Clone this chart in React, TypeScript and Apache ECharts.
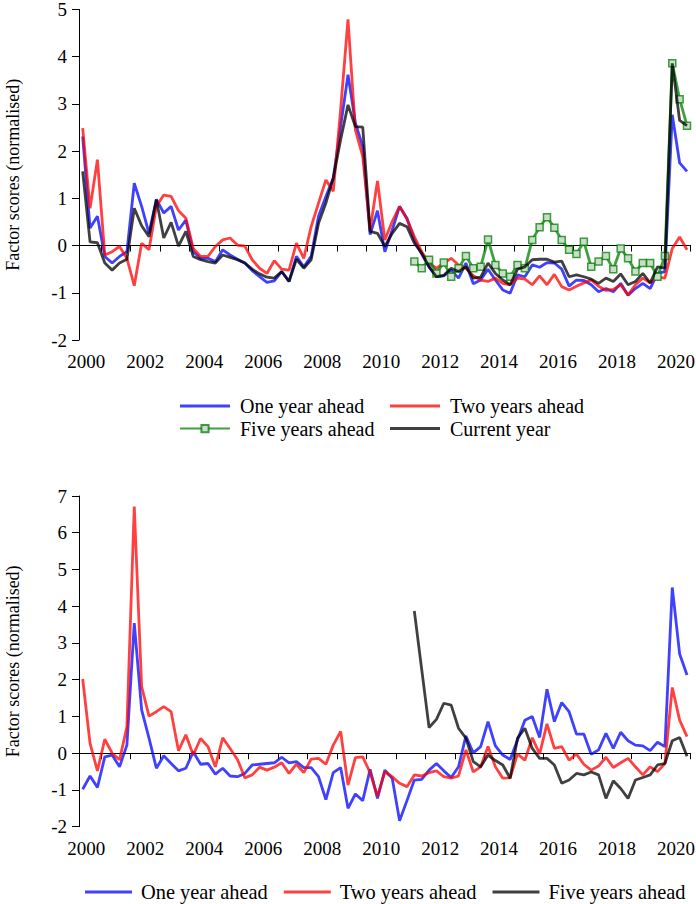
import React, { useEffect, useRef } from "react";
import * as echarts from "echarts";

// Quarterly categories 2000Q2 .. 2020Q4
const quarters: string[] = [];
for (let y = 2000; y <= 2020; y++) {
  for (let q = 1; q <= 4; q++) {
    if (y === 2000 && q === 1) continue;
    quarters.push(`${y}Q${q}`);
  }
}

const yTicksTop = { min: -2, max: 5, interval: 1 };
const yTicksBottom = { min: -2, max: 7, interval: 1 };

// ---- Top panel ----
const topOneYear = [
  2.31, 0.37, 0.62, -0.23, -0.37, -0.23, -0.13, 1.32, 0.83, 0.26,
  0.98, 0.69, 0.83, 0.33, 0.54, -0.13, -0.27, -0.27, -0.34, -0.09,
  -0.2, -0.29, -0.37, -0.53, -0.66, -0.78, -0.75, -0.55, -0.76, -0.23,
  -0.45, -0.23, 0.62, 1.04, 1.43, 2.52, 3.62, 2.6, 2.1, 0.23,
  0.74, -0.13, 0.33, 0.83, 0.58, 0.12, -0.18, -0.45, -0.66, -0.64,
  -0.52, -0.69, -0.37, -0.81, -0.73, -0.5, -0.73, -0.94, -1.01, -0.62,
  -0.66, -0.41, -0.46, -0.36, -0.37, -0.5, -0.86, -0.73, -0.74, -0.83,
  -0.98, -0.91, -0.98, -0.8, -1.05, -0.91, -0.8, -0.91, -0.59, -0.55,
  2.77, 1.75, 1.57,
];
const topTwoYears = [
  2.49, 0.79, 1.82, -0.2, -0.13, -0.02, -0.27, -0.85, 0.05, -0.09,
  0.83, 1.07, 1.04, 0.74, 0.58, -0.06, -0.23, -0.23, -0.02, 0.12,
  0.16, 0.01, -0.01, -0.3, -0.48, -0.59, -0.32, -0.5, -0.52, 0.05,
  -0.27, 0.4, 0.9, 1.39, 1.15, 2.88, 4.79, 2.45, 1.89, 0.33,
  1.37, 0.12, 0.51, 0.83, 0.56, 0.19, -0.13, -0.37, -0.48, -0.37,
  -0.27, -0.41, -0.48, -0.64, -0.73, -0.76, -0.69, -0.8, -0.83, -0.69,
  -0.71, -0.83, -0.64, -0.83, -0.61, -0.87, -0.94, -0.86, -0.79, -0.73,
  -0.86, -0.95, -0.93, -0.83, -1.05, -0.83, -0.69, -0.79, -0.67, -0.69,
  -0.06, 0.18, -0.09,
];
// starts 2011Q3
const topFiveYearsStart = 45;
const topFiveYears = [
  -0.34, -0.48, -0.3, -0.59, -0.36, -0.66, -0.48, -0.22, -0.48, -0.45,
  0.13, -0.41, -0.59, -0.66, -0.41, -0.48, 0.12, 0.39, 0.6, 0.38,
  0.12, -0.09, -0.18, 0.08, -0.45, -0.34, -0.22, -0.5, -0.06, -0.27,
  -0.55, -0.37, -0.37, -0.66, -0.22, 3.86, 3.1, 2.54,
];
const topCurrentYear = [
  1.57, 0.08, 0.06, -0.37, -0.52, -0.37, -0.29, 0.79, 0.42, 0.19,
  0.97, 0.16, 0.49, -0.01, 0.3, -0.23, -0.3, -0.34, -0.37, -0.2,
  -0.25, -0.3, -0.37, -0.5, -0.6, -0.67, -0.69, -0.55, -0.76, -0.29,
  -0.48, -0.3, 0.47, 0.9, 1.43, 2.24, 2.98, 2.52, 2.51, 0.3,
  0.26, -0.02, 0.26, 0.47, 0.4, 0.05, -0.16, -0.45, -0.66, -0.63,
  -0.48, -0.55, -0.45, -0.69, -0.67, -0.37, -0.59, -0.73, -0.83, -0.5,
  -0.45, -0.3, -0.29, -0.29, -0.35, -0.33, -0.66, -0.62, -0.66, -0.71,
  -0.8, -0.69, -0.76, -0.6, -0.83, -0.76, -0.59, -0.79, -0.45, -0.48,
  3.86, 2.65, 2.54,
];

// ---- Bottom panel ----
const bottomOneYear = [
  -0.98, -0.62, -0.93, -0.1, -0.05, -0.37, 0.22, 3.54, 1.18, 0.41,
  -0.41, -0.07, -0.28, -0.48, -0.41, 0.04, -0.3, -0.28, -0.57, -0.41,
  -0.62, -0.64, -0.55, -0.32, -0.3, -0.28, -0.26, -0.11, -0.26, -0.23,
  -0.39, -0.39, -0.64, -1.26, -0.53, -0.39, -1.5, -1.11, -1.29, -0.44,
  -1.23, -0.46, -0.68, -1.84, -1.29, -0.73, -0.71, -0.46, -0.28, -0.48,
  -0.66, -0.37, 0.47, 0.01, 0.18, 0.86, 0.2, -0.05, -0.17, 0.36,
  0.9, 1.0, 0.43, 1.74, 0.86, 1.38, 1.13, 0.52, 0.52, -0.03,
  0.09, 0.54, 0.13, 0.57, 0.34, 0.22, 0.2, 0.07, 0.3, 0.18,
  4.51, 2.7, 2.13,
];
const bottomTwoYears = [
  2.02, 0.27, -0.48, 0.38, 0.0, -0.18, 0.72, 6.71, 1.81, 1.01,
  1.13, 1.27, 1.13, 0.07, 0.5, -0.05, 0.4, 0.18, -0.37, 0.42,
  0.13, -0.17, -0.67, -0.59, -0.38, -0.46, -0.38, -0.26, -0.55, -0.3,
  -0.53, -0.16, -0.14, -0.3, 0.22, 0.59, -0.87, -0.12, -0.1, -0.53,
  -1.17, -0.51, -0.64, -0.82, -0.91, -0.59, -0.62, -0.53, -0.48, -0.64,
  -0.68, -0.62, 0.09, -0.51, -0.37, 0.18, -0.37, -0.68, -0.67, -0.02,
  -0.19, 0.42, -0.02, 0.8, 0.13, 0.18, -0.19, -0.02, -0.3, -0.46,
  -0.35, -0.11, -0.39, -0.26, -0.14, -0.37, -0.59, -0.37, -0.5, -0.28,
  1.79, 0.9, 0.45,
];
const bottomFiveYearsStart = 45;
const bottomFiveYears = [
  3.87, 2.28, 0.7, 0.92, 1.36, 1.31, 0.68, 0.41, -0.23, -0.37,
  -0.05, -0.2, -0.32, -0.68, 0.41, 0.68, 0.13, -0.14, -0.14, -0.32,
  -0.82, -0.73, -0.55, -0.59, -0.51, -0.59, -1.23, -0.75, -0.96, -1.23,
  -0.73, -0.66, -0.59, -0.32, -0.28, 0.34, 0.43, -0.08,
];

const pad = (start: number, arr: number[]) =>
  (new Array(start).fill(null) as (number | null)[]).concat(arr);

const FONT = "Liberation Serif";
const BLUE = "rgba(0,0,255,0.75)";
const RED = "rgba(255,0,0,0.75)";
const GREEN = "rgba(0,128,0,0.75)";
const BLACK = "rgba(0,0,0,0.75)";
const LW = 2.8;
const LINE_ICON = "path://M0,0H50V3H0Z";

const xAxis = () => ({
  type: "category",
  data: quarters,
  boundaryGap: true,
  axisLine: { show: true, lineStyle: { color: "#000", width: 1 } },
  axisTick: {
    show: true,
    interval: (_i: number, v: string) => v.endsWith("Q1"),
    length: 6,
    lineStyle: { color: "#000", width: 1 },
  },
  axisLabel: {
    interval: (_i: number, v: string) =>
      v.endsWith("Q2") && Number(v.slice(0, 4)) % 2 === 0,
    formatter: (v: string) => v.slice(0, 4),
    color: "#000",
    fontSize: 19,
    fontFamily: FONT,
    margin: 12,
    padding: [0, 0, 0, 7.36],
  },
  splitLine: { show: false },
});

const yAxis = (t: { min: number; max: number; interval: number }) => ({
  type: "value",
  min: t.min,
  max: t.max,
  interval: t.interval,
  name: "Factor scores (normalised)",
  nameLocation: "middle",
  nameGap: 57,
  nameRotate: 90,
  nameTextStyle: { fontSize: 18, fontFamily: FONT, color: "#000" },
  axisLine: { show: true, lineStyle: { color: "#000", width: 1 } },
  axisTick: { show: true, length: 7, lineStyle: { color: "#000", width: 1 } },
  axisLabel: { color: "#000", fontSize: 19, fontFamily: FONT, margin: 12 },
  splitLine: { show: false },
});

const line = (name: string, data: (number | null)[], color: string, z: number) => ({
  type: "line",
  name,
  data,
  symbol: "none",
  connectNulls: false,
  lineStyle: { color, width: LW },
  itemStyle: { color },
  z,
});

const legendText = { fontSize: 20, fontFamily: FONT, color: "#000", padding: [0, 0, 0, 5] };

const legendBase = {
  padding: 0,
  itemWidth: 50,
  itemHeight: 9,
  selectedMode: false,
  textStyle: legendText,
};

const gridBase = { left: 79, right: 5.3, containLabel: false, outerBoundsMode: "none" };

const topOption = {
  animation: false,
  textStyle: { fontFamily: FONT },
  grid: { ...gridBase, top: 9.5, height: 330.5 },
  xAxis: xAxis(),
  yAxis: yAxis(yTicksTop),
  legend: [
    {
      ...legendBase,
      data: [
        { name: "One year ahead", icon: LINE_ICON },
        { name: "Five years ahead" },
      ],
      orient: "vertical",
      left: 179,
      top: 396,
      itemGap: 2.6,
    },
    {
      ...legendBase,
      data: [
        { name: "Two years ahead", icon: LINE_ICON },
        { name: "Current year", icon: LINE_ICON },
      ],
      orient: "vertical",
      left: 390,
      top: 396,
      itemGap: 2.6,
    },
  ],
  series: [
    line("One year ahead", topOneYear, BLUE, 2),
    line("Two years ahead", topTwoYears, RED, 3),
    {
      type: "line",
      name: "Five years ahead",
      data: pad(topFiveYearsStart, topFiveYears),
      symbol: "rect",
      symbolSize: 7,
      showSymbol: true,
      showAllSymbol: true,
      connectNulls: false,
      lineStyle: { color: GREEN, width: LW },
      itemStyle: { color: "#cbdccb", borderColor: GREEN, borderWidth: 1.5 },
      z: 4,
    },
    line("Current year", topCurrentYear, BLACK, 5),
  ],
};

const bottomOption = {
  animation: false,
  textStyle: { fontFamily: FONT },
  grid: { ...gridBase, top: 44, height: 330.7 },
  xAxis: xAxis(),
  yAxis: yAxis(yTicksBottom),
  legend: {
    ...legendBase,
    itemWidth: 47,
    data: [
      { name: "One year ahead", icon: LINE_ICON },
      { name: "Two years ahead", icon: LINE_ICON },
      { name: "Five years ahead", icon: LINE_ICON },
    ],
    orient: "horizontal",
    left: 85,
    top: 430,
    itemGap: 16,
    textStyle: { ...legendText, fontSize: 20.4, padding: [0, 0, 0, 4] },
  },
  series: [
    line("One year ahead", bottomOneYear, BLUE, 2),
    line("Two years ahead", bottomTwoYears, RED, 3),
    line("Five years ahead", pad(bottomFiveYearsStart, bottomFiveYears), BLACK, 4),
  ],
};

function Chart({ option, top }: { option: any; top: number }) {
  const ref = useRef<HTMLDivElement>(null);
  useEffect(() => {
    if (!ref.current) return;
    const chart = echarts.init(ref.current, undefined, { renderer: "svg" });
    chart.setOption(option);
    return () => chart.dispose();
  }, [option]);
  return (
    <div
      ref={ref}
      style={{ position: "absolute", left: 0, top, width: 696, height: 452 }}
    />
  );
}

export default function App() {
  return (
    <div style={{ position: "absolute", left: 0, top: 0, width: 696, height: 904, background: "#fff" }}>
      <Chart option={topOption} top={0} />
      <Chart option={bottomOption} top={452} />
    </div>
  );
}
